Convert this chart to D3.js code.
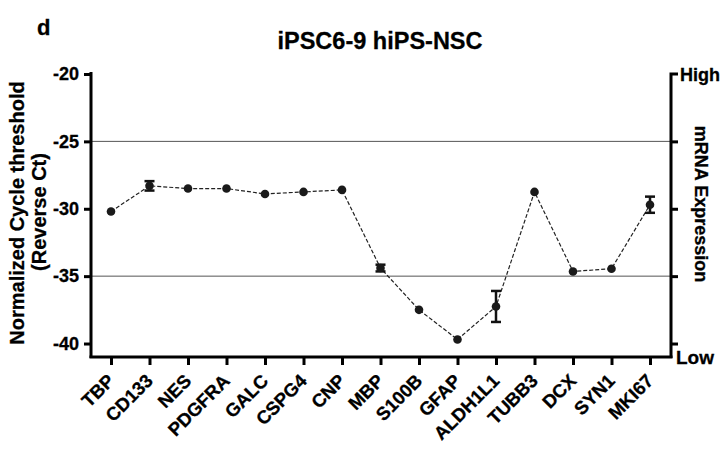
<!DOCTYPE html>
<html>
<head>
<meta charset="utf-8">
<script src="https://cdn.jsdelivr.net/npm/d3@7"></script>
<style>
  body { margin: 0; background: #fff; }
  text { font-family: "Liberation Sans", Arial, sans-serif; font-weight: bold; fill: #000; stroke: #000; stroke-width: 0.3px; }
</style>
</head>
<body>
<div id="chart"></div>
<script>
var genes = ["TBP", "CD133", "NES", "PDGFRA", "GALC", "CSPG4", "CNP", "MBP",
    "S100B", "GFAP", "ALDH1L1", "TUBB3", "DCX", "SYN1", "MKI67"];
var ctValues = [-30.2, -28.3, -28.5, -28.5, -28.9, -28.75, -28.6, -34.4,
    -37.5, -39.7, -37.25, -28.75, -34.65, -34.45, -29.7];
var ctErrors = [0, 0.35, 0, 0, 0, 0, 0, 0.25, 0, 0, 1.15, 0, 0, 0, 0.6];
var yTicks = [-20, -25, -30, -35, -40];
var refLines = [-25, -35];

var W = 724, H = 451;
var plotLeft = 91, plotRight = 671, plotTop = 74, plotBottom = 357;
var FONT = "'Liberation Sans', Arial, sans-serif";

var svg = d3.select("#chart").append("svg")
    .attr("width", W)
    .attr("height", H);

var xScale = d3.scalePoint()
    .domain(genes)
    .range([111, 650]);

var yScale = d3.scaleLinear()
    .domain([-41, -20])
    .range([plotBottom, plotTop]);

// reference lines
svg.selectAll(".ref")
    .data(refLines)
    .enter().append("line")
    .attr("x1", plotLeft).attr("x2", plotRight)
    .attr("y1", function (d) { return yScale(d); })
    .attr("y2", function (d) { return yScale(d); })
    .attr("stroke", "#555")
    .attr("stroke-width", 1);

// left axis
var yAxis = svg.append("g")
    .attr("transform", "translate(" + plotLeft + ",0)")
    .call(d3.axisLeft(yScale).tickValues(yTicks).tickSize(7).tickSizeOuter(0)
        .tickFormat(function (d) { return String(d); }));
yAxis.select(".domain").attr("stroke", "#000").attr("stroke-width", 3)
    .attr("d", "M0," + (plotTop - 2) + "V" + (plotBottom + 1));
yAxis.selectAll(".tick line").attr("stroke-width", 3);
yAxis.selectAll(".tick text")
    .attr("x", -12)
    .style("font-size", "18px")
    .style("font-family", FONT)
    .style("font-weight", "bold");

// bottom axis
var xAxis = svg.append("g")
    .attr("transform", "translate(0," + plotBottom + ")")
    .call(d3.axisBottom(xScale).tickSize(8).tickSizeOuter(0));
xAxis.select(".domain").attr("stroke", "#000").attr("stroke-width", 3)
    .attr("d", "M" + (plotLeft - 1.5) + ",0H" + (plotRight + 1.5));
xAxis.selectAll(".tick line").attr("stroke-width", 3);
xAxis.selectAll(".tick text")
    .attr("text-anchor", "end")
    .attr("dy", null)
    .attr("y", 0)
    .attr("transform", "translate(4,25) rotate(-45)")
    .style("font-size", "18.5px")
    .style("font-family", FONT)
    .style("font-weight", "bold");

// right axis
var yAxisR = svg.append("g")
    .attr("transform", "translate(" + plotRight + ",0)")
    .call(d3.axisRight(yScale).tickValues([-25, -30, -35, -40]).tickSize(7).tickSizeOuter(0).tickFormat(""));
yAxisR.select(".domain").attr("stroke", "#000").attr("stroke-width", 3)
    .attr("d", "M7," + plotTop + "H0V" + (plotBottom + 1));
yAxisR.selectAll(".tick line").attr("stroke-width", 3);

svg.append("text").attr("x", plotRight + 9).attr("y", plotTop + 7)
    .style("font-size", "18px").text("High");
svg.append("text").attr("x", plotRight + 5).attr("y", plotBottom + 7)
    .style("font-size", "19px").text("Low");
svg.append("text")
    .attr("transform", "translate(695," + 204 + ") rotate(90)")
    .attr("text-anchor", "middle")
    .style("font-size", "18px")
    .text("mRNA Expression");

// dashed line
var line = d3.line()
    .x(function (d, i) { return xScale(genes[i]); })
    .y(function (d) { return yScale(d); });

svg.append("path")
    .datum(ctValues)
    .attr("d", line)
    .attr("fill", "none")
    .attr("stroke", "#222")
    .attr("stroke-width", 1.2)
    .attr("stroke-dasharray", "4,2");

// error bars
var errs = svg.selectAll(".err")
    .data(genes.filter(function (g, i) { return ctErrors[i] > 0; }))
    .enter().append("g")
    .attr("stroke", "#111")
    .attr("stroke-width", 2.5);
errs.append("line")
    .attr("x1", function (g) { return xScale(g); })
    .attr("x2", function (g) { return xScale(g); })
    .attr("y1", function (g) { var i = genes.indexOf(g); return yScale(ctValues[i] + ctErrors[i]); })
    .attr("y2", function (g) { var i = genes.indexOf(g); return yScale(ctValues[i] - ctErrors[i]); });
[1, -1].forEach(function (s) {
    errs.append("line")
        .attr("x1", function (g) { return xScale(g) - 5; })
        .attr("x2", function (g) { return xScale(g) + 5; })
        .attr("y1", function (g) { var i = genes.indexOf(g); return yScale(ctValues[i] + s * ctErrors[i]); })
        .attr("y2", function (g) { var i = genes.indexOf(g); return yScale(ctValues[i] + s * ctErrors[i]); });
});

// points
svg.selectAll(".pt")
    .data(ctValues)
    .enter().append("circle")
    .attr("cx", function (d, i) { return xScale(genes[i]); })
    .attr("cy", function (d) { return yScale(d); })
    .attr("r", 4.3)
    .attr("fill", "#1a1a1a");

// titles
svg.append("text").attr("x", 37).attr("y", 35)
    .style("font-size", "22px").text("d");
svg.append("text").attr("x", 380).attr("y", 49)
    .attr("text-anchor", "middle")
    .style("font-size", "23.5px")
    .text("iPSC6-9 hiPS-NSC");

svg.append("text")
    .attr("transform", "translate(24,213) rotate(-90)")
    .attr("text-anchor", "middle")
    .style("font-size", "20px")
    .text("Normalized Cycle threshold");
svg.append("text")
    .attr("transform", "translate(46,212) rotate(-90)")
    .attr("text-anchor", "middle")
    .style("font-size", "20px")
    .text("(Reverse Ct)");
</script>
</body>
</html>
